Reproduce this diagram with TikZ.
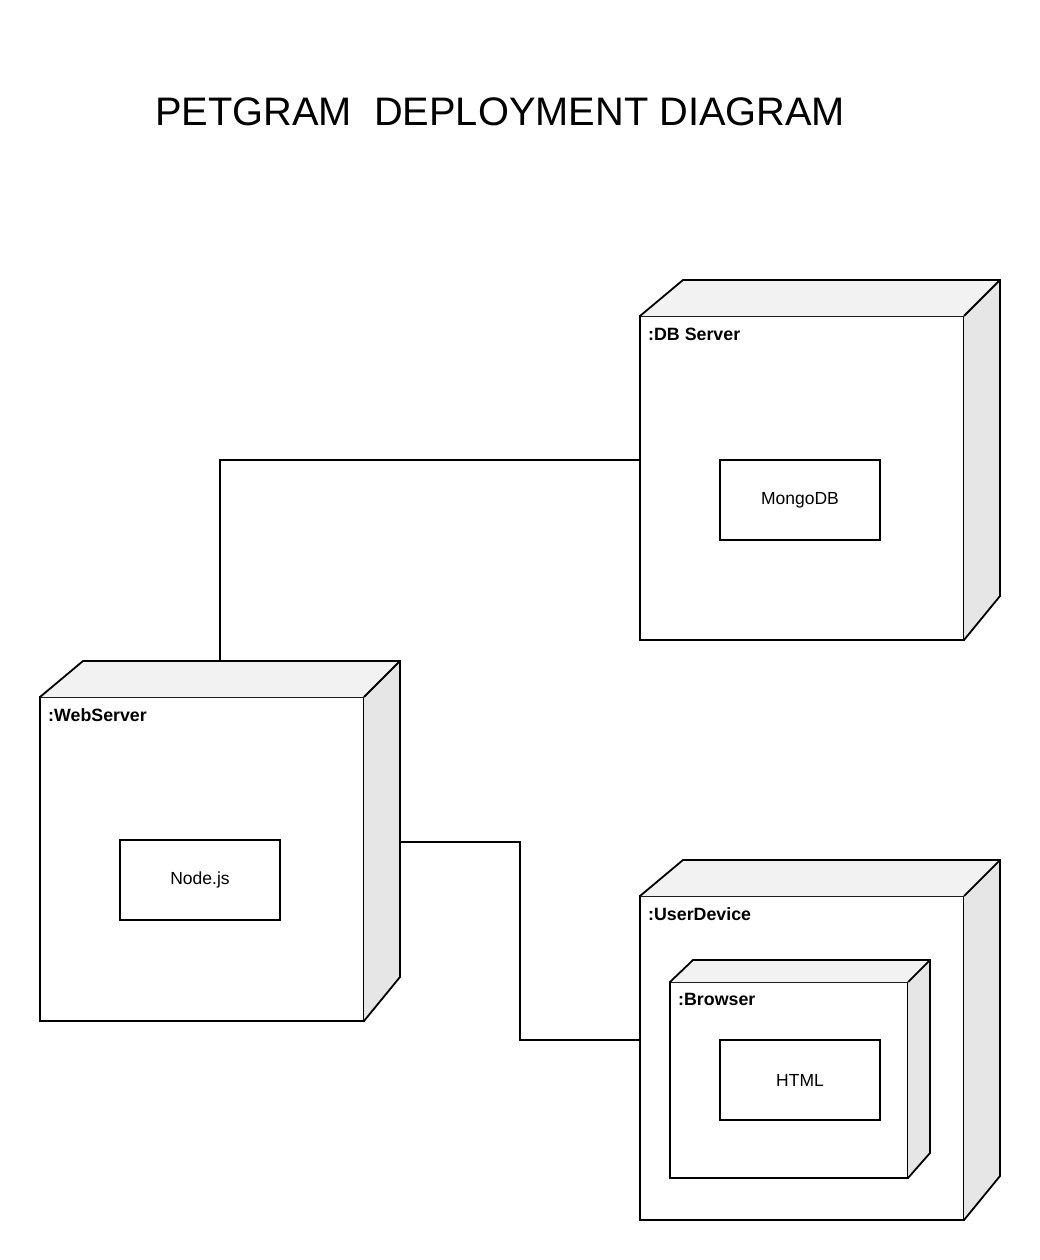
\documentclass[tikz,border=0pt]{standalone}
\usepackage{fontspec}
\setmainfont{Liberation Sans}
\usetikzlibrary{calc}
\definecolor{topfill}{HTML}{F2F2F2}
\definecolor{sidefill}{HTML}{E6E6E6}
\tikzset{
  edge/.style={line width=1.8pt, line join=miter},
  frontface/.style={draw, edge, fill=white, rectangle, outer sep=0pt, inner sep=0pt},
  artifact/.style={draw, edge, fill=white, rectangle, outer sep=0pt, inner sep=0pt,
    minimum width=160pt, minimum height=80pt, font=\fontsize{17.5}{20}\selectfont},
  boxlabel/.style={anchor=base west, inner sep=0pt, font=\fontsize{17.8}{20}\selectfont\bfseries},
  conn/.style={line width=1.8pt}
}
\newcommand{\cubefaces}[4]{%
  \fill[topfill] (#1.north west) -- ($(#1.north west)+(#2,-#3)$) -- ($(#1.north east)+(#3,-#3)$) -- (#1.north east) -- cycle;
  \fill[sidefill] (#1.north east) -- ($(#1.north east)+(#3,-#3)$) -- ($(#1.south east)+(#3,-#4)$) -- (#1.south east) -- cycle;
  \draw[edge] (#1.north west) -- ($(#1.north west)+(#2,-#3)$) -- ($(#1.north east)+(#3,-#3)$) -- ($(#1.south east)+(#3,-#4)$) -- (#1.south east);
  \draw[edge] (#1.north east) -- ($(#1.north east)+(#3,-#3)$);
}
\begin{document}
\begin{tikzpicture}[x=1pt,y=-1pt]
\useasboundingbox[fill=white] (0,0) rectangle (1040,1260);

\node[anchor=base west, inner sep=0pt, font=\fontsize{39.8}{46}\selectfont] (title) at (155,126) {PETGRAM\ \ DEPLOYMENT DIAGRAM};

% DB Server
\node[frontface, minimum width=324pt, minimum height=324pt] (db) at (802,478) {};
\cubefaces{db}{43}{36}{44}
\node[boxlabel] (dblabel) at ($(db.north west)+(8,24)$) {:DB Server};
\node[artifact] (mongo) at (800,500) {MongoDB};

% WebServer
\node[frontface, minimum width=324pt, minimum height=324pt] (web) at (202,859) {};
\cubefaces{web}{43}{36}{44}
\node[boxlabel] (weblabel) at ($(web.north west)+(8,24)$) {:WebServer};
\node[artifact] (nodejs) at (200,880) {Node.js};

% UserDevice
\node[frontface, minimum width=324pt, minimum height=324pt] (user) at (802,1058) {};
\cubefaces{user}{43}{36}{44}
\node[boxlabel] (userlabel) at ($(user.north west)+(8,24)$) {:UserDevice};

% Browser
\node[frontface, minimum width=238pt, minimum height=196pt] (browser) at (789,1080) {};
\cubefaces{browser}{23}{22}{25}
\node[boxlabel] (browserlabel) at ($(browser.north west)+(8,23)$) {:Browser};
\node[artifact] (html) at (800,1080) {HTML};

% connectors
\coordinate (wtop) at (220,661);
\coordinate (wright) at (400,842);
\draw[conn] (db.west |- mongo.north) -| (wtop);
\draw[conn] (wright) -- ++(120,0) |- (user.west |- html.north);
\end{tikzpicture}
\end{document}
